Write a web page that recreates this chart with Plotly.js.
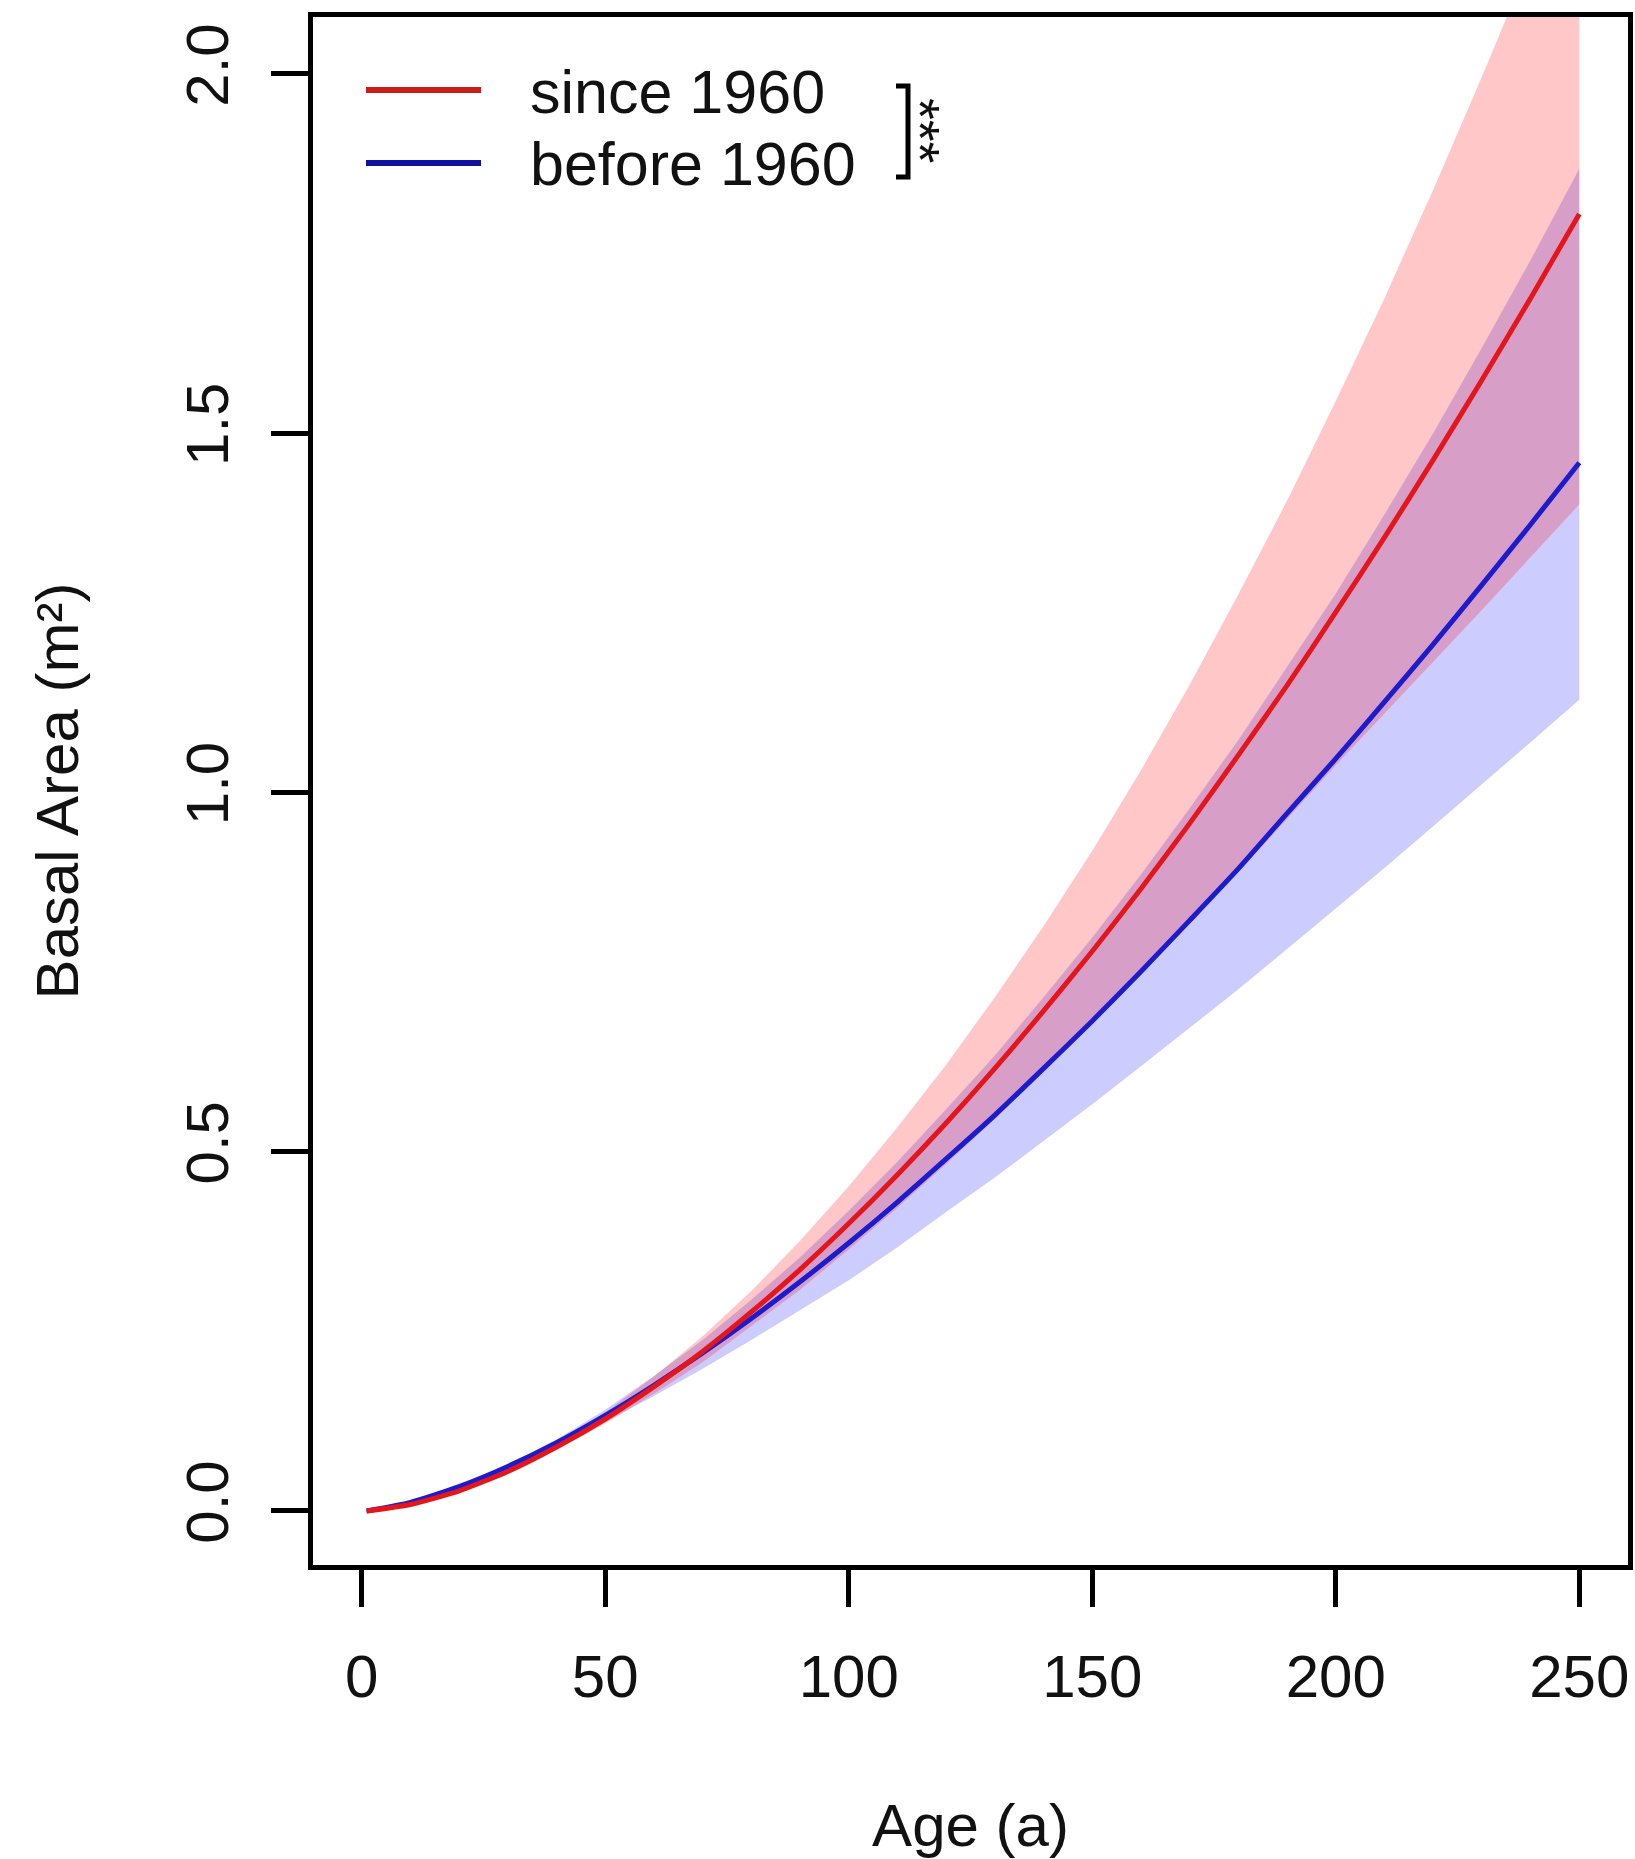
<!DOCTYPE html>
<html>
<head>
<meta charset="utf-8">
<script src="https://cdn.plot.ly/plotly-3.0.1.min.js"></script>
<style>html,body{margin:0;padding:0;background:#fff;}#chart{width:1635px;height:1859px;}</style>
</head>
<body>
<div id="chart"></div>
<script>
// Age (a)
const age = [1,10,20,30,40,50,60,70,80,90,100,110,120,130,140,150,160,170,180,190,200,210,220,230,240,250];
// since 1960: fitted basal area and confidence band
const since1960 = [0.000,0.009,0.028,0.055,0.089,0.128,0.173,0.222,0.277,0.336,0.400,0.468,0.540,0.616,0.696,0.779,0.866,0.957,1.052,1.149,1.251,1.355,1.463,1.574,1.688,1.805];
const since1960Upper = [0.000,0.0091,0.0288,0.0575,0.0943,0.137,0.187,0.243,0.306,0.376,0.452,0.534,0.621,0.715,0.814,0.919,1.031,1.150,1.276,1.406,1.545,1.688,1.839,1.996,2.159,2.328];
const since1960Lower = [0.000,0.0089,0.0274,0.0534,0.0854,0.1216,0.163,0.207,0.257,0.308,0.364,0.422,0.483,0.546,0.611,0.678,0.746,0.817,0.890,0.963,1.038,1.110,1.182,1.254,1.327,1.401];
// before 1960: fitted basal area and confidence band
const before1960 = [0.000,0.012,0.034,0.062,0.095,0.133,0.175,0.220,0.268,0.319,0.373,0.430,0.490,0.551,0.616,0.682,0.751,0.822,0.894,0.971,1.047,1.126,1.206,1.289,1.373,1.459];
const before1960Upper = [0.000,0.0121,0.0348,0.0642,0.0996,0.141,0.188,0.238,0.294,0.353,0.418,0.486,0.559,0.634,0.715,0.798,0.886,0.978,1.073,1.175,1.277,1.387,1.500,1.619,1.741,1.868];
const before1960Lower = [0.000,0.0118,0.0330,0.0594,0.0897,0.1237,0.160,0.198,0.238,0.279,0.321,0.367,0.416,0.464,0.515,0.566,0.619,0.672,0.726,0.782,0.838,0.895,0.953,1.011,1.070,1.129];
// tick labels
const xTicks = [0,50,100,150,200,250];
const yTicks = [0,0.5,1,1.5,2];
const yTickText = ["0.0","0.5","1.0","1.5","2.0"];
const seriesNames = ["since 1960","before 1960"];

const W = 1635, H = 1859;
const M = {l:313, r:7, t:17, b:294};
const PW = W - M.l - M.r, PH = H - M.t - M.b;
const px = v => (v - M.l) / PW;
const py = v => (H - M.b - v) / PH;

const RED = "rgb(228,22,28)";
const BLUE = "rgb(28,28,205)";
const FONT = "Liberation Sans, Arial, sans-serif";

function band(lo, hi, color, name) {
  return {
    x: age.concat(age.slice().reverse()),
    y: hi.concat(lo.slice().reverse()),
    type: "scatter", mode: "lines", fill: "toself",
    fillcolor: color, line: {width: 0},
    hoverinfo: "skip", showlegend: false, name: name
  };
}

const traces = [
  band(before1960Lower, before1960Upper, "rgba(0,0,255,0.20)", "before 1960 CI"),
  band(since1960Lower, since1960Upper, "rgba(255,0,0,0.22)", "since 1960 CI"),
  {x: age, y: before1960, type: "scatter", mode: "lines", name: seriesNames[1],
   line: {color: BLUE, width: 5, shape: "spline", smoothing: 0.6}, showlegend: false},
  {x: age, y: since1960, type: "scatter", mode: "lines", name: seriesNames[0],
   line: {color: RED, width: 5, shape: "spline", smoothing: 0.6}, showlegend: false}
];

const layout = {
  width: W, height: H,
  margin: M,
  paper_bgcolor: "#fff", plot_bgcolor: "#fff",
  font: {family: FONT, size: 60, color: "#111"},
  showlegend: false,
  xaxis: {
    range: [-10, 260], tickvals: xTicks, ticktext: xTicks.map(String),
    ticks: "outside", ticklen: 37, tickwidth: 5, tickcolor: "#000",
    showline: true, linewidth: 5, linecolor: "#000", mirror: true,
    showgrid: false, zeroline: false, automargin: false,
    ticklabelstandoff: 18,
    tickfont: {family: FONT, size: 60, color: "#111"},
    title: {text: "Age (a)", font: {family: FONT, size: 60, color: "#111"}, standoff: 116}
  },
  yaxis: {
    range: [-0.0752, 2.0793], tickvals: yTicks, ticktext: yTickText,
    tickangle: -90,
    ticks: "outside", ticklen: 37, tickwidth: 5, tickcolor: "#000",
    showline: true, linewidth: 5, linecolor: "#000", mirror: true,
    showgrid: false, zeroline: false, automargin: false,
    ticklabelstandoff: 19,
    tickfont: {family: FONT, size: 60, color: "#111"},
    title: {text: "Basal Area (m²)", font: {family: FONT, size: 60, color: "#111"}, standoff: 78}
  },
  shapes: [
    {type: "line", xref: "paper", yref: "paper", x0: px(366), x1: px(481), y0: py(90), y1: py(90),
     line: {color: "rgb(200,30,25)", width: 6}},
    {type: "line", xref: "paper", yref: "paper", x0: px(366), x1: px(481), y0: py(163), y1: py(163),
     line: {color: "rgb(15,15,160)", width: 6}},
    {type: "path", xref: "paper", yref: "paper",
     path: "M " + px(896) + "," + py(86) + " L " + px(908) + "," + py(86) + " L " + px(908) + "," + py(177) + " L " + px(896) + "," + py(177),
     line: {color: "#000", width: 5}}
  ],
  annotations: [
    {xref: "paper", yref: "paper", x: px(528), y: py(92), xanchor: "left", yanchor: "middle",
     text: seriesNames[0], showarrow: false, font: {family: FONT, size: 61, color: "#111"}},
    {xref: "paper", yref: "paper", x: px(528), y: py(164), xanchor: "left", yanchor: "middle",
     text: seriesNames[1], showarrow: false, font: {family: FONT, size: 61, color: "#111"}},
    {xref: "paper", yref: "paper", x: px(920), y: py(130), xanchor: "center", yanchor: "middle",
     text: "***", textangle: 90, showarrow: false, font: {family: FONT, size: 56, color: "#111"}}
  ]
};

Plotly.newPlot("chart", traces, layout, {displayModeBar: false, staticPlot: true});
</script>
</body>
</html>
